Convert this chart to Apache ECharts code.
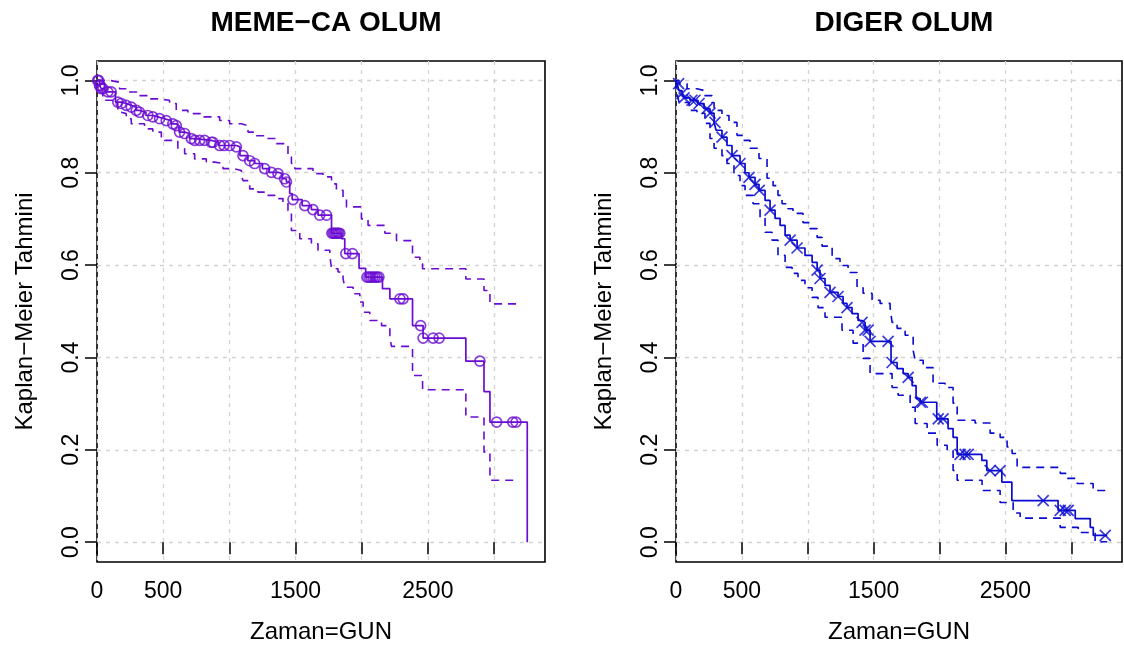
<!DOCTYPE html>
<html>
<head>
<meta charset="utf-8">
<title>Kaplan-Meier</title>
<script src="https://cdn.jsdelivr.net/npm/echarts@6/dist/echarts.min.js"></script>
<style>
html, body { margin: 0; padding: 0; background: #fff; }
#km { width: 1124px; height: 651px; }
</style>
</head>
<body>
<div id="km"></div>
<script>
// eksen degerleri
const xTicks = [0, 500, 1000, 1500, 2000, 2500, 3000];
const xLabels = [0, 500, 1500, 2500];
const yTicks = [0, 0.2, 0.4, 0.6, 0.8, 1.0];

// MEME-CA OLUM: [gun, S(t)]
const memeKM = [[0,1],[19,.989],[32,.982],[60,.975],[140,.953],[183,.950],[221,.946],[259,.942],[297,.935],[321,.931],[370,.924],[422,.921],[460,.917],[510,.913],[560,.906],[599,.902],[620,.888],[662,.885],[700,.874],[738,.870],[864,.866],[920,.859],[1053,.856],[1080,.837],[1140,.826],[1191,.820],[1250,.809],[1300,.801],[1368,.798],[1400,.787],[1431,.780],[1456,.755],[1475,.742],[1550,.729],[1620,.720],[1670,.708],[1772,.669],[1847,.657],[1872,.625],[1980,.593],[2030,.574],[2157,.549],[2213,.527],[2384,.469],[2464,.442],[2787,.392],[2924,.326],[2969,.260],[3251,0]];
const memeUpper = [[0,1],[95,.996],[170,.982],[233,.975],[309,.967],[384,.960],[460,.957],[548,.950],[599,.935],[687,.928],[788,.921],[927,.913],[1002,.906],[1091,.902],[1141,.888],[1191,.880],[1267,.874],[1356,.863],[1443,.834],[1469,.820],[1494,.809],[1632,.798],[1708,.791],[1772,.776],[1809,.762],[1859,.747],[1885,.726],[1998,.700],[2048,.686],[2175,.669],[2263,.653],[2384,.617],[2440,.603],[2460,.592],[2787,.570],[2924,.545],[2969,.516],[3171,.516]];
const memeLower = [[0,1],[20,.975],[44,.957],[157,.931],[183,.928],[221,.917],[259,.906],[359,.895],[422,.888],[486,.877],[511,.870],[611,.852],[662,.841],[738,.830],[826,.823],[888,.820],[952,.809],[1027,.805],[1091,.794],[1103,.783],[1154,.765],[1216,.758],[1280,.751],[1343,.744],[1405,.736],[1443,.718],[1469,.675],[1532,.657],[1620,.646],[1670,.632],[1759,.621],[1772,.592],[1821,.585],[1859,.571],[1872,.552],[1935,.538],[1986,.520],[2011,.498],[2061,.480],[2150,.469],[2213,.444],[2225,.424],[2384,.361],[2460,.330],[2787,.271],[2924,.195],[2969,.134],[3171,.134]];
const memeCensor = [5,12,19,25,32,45,82,107,157,183,221,259,297,321,384,422,473,523,573,599,624,662,713,738,776,813,864,876,927,960,1002,1053,1103,1154,1191,1267,1318,1368,1418,1431,1481,1570,1632,1683,1734,1775,1785,1795,1805,1815,1825,1834,1880,1930,2040,2055,2070,2085,2100,2115,2130,2289,2313,2445,2464,2540,2585,2893,3020,3141,3166];

// DIGER OLUM
const digerKM = [[0,1],[8,.993],[23,.978],[46,.972],[61,.962],[106,.957],[167,.950],[213,.939],[258,.929],[289,.909],[304,.892],[349,.877],[387,.859],[425,.837],[486,.820],[524,.800],[554,.790],[600,.775],[630,.762],[676,.740],[714,.719],[752,.701],[790,.686],[828,.665],[866,.654],[919,.637],[979,.621],[1033,.606],[1071,.589],[1093,.571],[1131,.556],[1169,.541],[1230,.532],[1268,.517],[1298,.508],[1336,.495],[1382,.480],[1412,.476],[1435,.459],[1473,.435],[1632,.389],[1678,.376],[1724,.365],[1762,.357],[1792,.339],[1822,.311],[1853,.303],[1979,.267],[2065,.246],[2103,.227],[2134,.190],[2321,.177],[2359,.155],[2473,.130],[2549,.090],[2900,.069],[3030,.051],[3144,.032],[3167,.0145],[3273,.0145]];
const digerUpper = [[0,1],[23,.993],[84,.982],[159,.978],[213,.967],[273,.952],[289,.935],[349,.924],[402,.909],[463,.881],[501,.870],[562,.853],[630,.831],[691,.788],[737,.772],[774,.751],[805,.733],[850,.722],[888,.712],[964,.692],[1017,.679],[1071,.660],[1109,.641],[1185,.614],[1245,.599],[1306,.584],[1374,.551],[1420,.539],[1488,.524],[1549,.517],[1625,.508],[1640,.476],[1678,.463],[1739,.448],[1800,.415],[1815,.394],[1876,.378],[1951,.344],[2042,.335],[2103,.301],[2134,.264],[2270,.258],[2384,.236],[2460,.227],[2513,.206],[2551,.192],[2589,.162],[2916,.149],[2969,.138],[3045,.127],[3166,.112],[3258,.108]];
const digerLower = [[0,1],[10,.970],[23,.952],[99,.935],[159,.929],[220,.907],[258,.874],[289,.853],[349,.837],[387,.820],[440,.794],[486,.772],[524,.751],[585,.733],[638,.703],[676,.671],[729,.654],[774,.621],[828,.595],[881,.582],[926,.567],[979,.551],[1033,.530],[1078,.508],[1131,.487],[1260,.459],[1344,.431],[1420,.398],[1473,.365],[1640,.335],[1686,.318],[1777,.292],[1815,.257],[1906,.236],[1982,.210],[2058,.199],[2103,.155],[2134,.134],[2323,.112],[2460,.086],[2559,.063],[2612,.052],[2916,.032],[3053,.021],[3121,.019],[3181,.001],[3273,.001]];
const digerCensor = [20,46,61,121,144,175,235,258,296,349,425,486,554,600,632,714,866,919,1071,1093,1169,1230,1298,1412,1435,1458,1473,1610,1640,1762,1855,1870,1990,2027,2156,2194,2217,2384,2460,2787,2916,2954,2977,3258];

const FONT = '"Liberation Sans", Arial, Helvetica, sans-serif';
const PURPLE = '#6a0cd2';
const BLUE = '#0a0ad0';

// sansur isaretleri egri uzerinde
function survAt(curve, t) {
  let s = curve[0][1];
  for (const p of curve) {
    if (p[0] <= t) s = p[1];
    else break;
  }
  return s;
}

function xAxisFor(gridIndex) {
  return {
    type: 'value',
    gridIndex: gridIndex,
    min: 0,
    max: 3385,
    axisLine: { show: false },
    axisTick: { show: true, inside: false, length: 12, customValues: xTicks, lineStyle: { color: '#000', width: 1.5 } },
    axisLabel: { customValues: xLabels, color: '#000', fontSize: 23, fontFamily: FONT, margin: 18, formatter: v => String(v) },
    splitLine: { show: true, lineStyle: { color: '#d3d3d3', type: [4, 5], width: 1.3 } },
    name: 'Zaman=GUN',
    nameLocation: 'middle',
    nameGap: 58,
    nameTextStyle: { color: '#000', fontSize: 24, fontFamily: FONT }
  };
}

function yAxisFor(gridIndex) {
  return {
    type: 'value',
    gridIndex: gridIndex,
    min: -0.043,
    max: 1.042,
    axisLine: { show: false },
    axisTick: { show: true, inside: false, length: 12, customValues: yTicks, lineStyle: { color: '#000', width: 1.5 } },
    axisLabel: {
      customValues: yTicks, rotate: 90, color: '#000', fontSize: 23, fontFamily: FONT, margin: 14,
      formatter: v => v.toFixed(1)
    },
    splitLine: { show: true, lineStyle: { color: '#d3d3d3', type: [4, 5], width: 1.3 } },
    name: 'Kaplan\u2212Meier Tahmini',
    nameLocation: 'middle',
    nameRotate: 90,
    nameGap: 60,
    nameTextStyle: { color: '#000', fontSize: 24, fontFamily: FONT }
  };
}

function panelSeries(idx, km, upper, lower, censor, color, symbol, size) {
  const dash = { color: color, width: 1.6, type: [8, 6] };
  return [
    { type: 'line', xAxisIndex: idx, yAxisIndex: idx, step: 'end', data: upper, symbol: 'none', lineStyle: dash },
    { type: 'line', xAxisIndex: idx, yAxisIndex: idx, step: 'end', data: lower, symbol: 'none', lineStyle: dash },
    { type: 'line', xAxisIndex: idx, yAxisIndex: idx, step: 'end', data: km, symbol: 'none', lineStyle: { color: color, width: 1.7 } },
    {
      type: 'scatter', xAxisIndex: idx, yAxisIndex: idx,
      data: censor.map(t => [t, survAt(km, t)]),
      symbol: symbol, symbolSize: size,
      itemStyle: { color: 'rgba(0,0,0,0)', borderColor: color, borderWidth: 1.7 }
    }
  ];
}

const chart = echarts.init(document.getElementById('km'));

const option = {
  animation: false,
  backgroundColor: '#fff',
  title: [
    { text: 'MEME\u2212CA OLUM', left: 321, top: 4, textAlign: 'center',
      textStyle: { fontSize: 28, fontWeight: 'bold', color: '#000', fontFamily: FONT } },
    { text: 'DIGER OLUM', left: 899, top: 4, textAlign: 'center',
      textStyle: { fontSize: 28, fontWeight: 'bold', color: '#000', fontFamily: FONT } }
  ],
  grid: [
    { left: 97, top: 61, width: 448, height: 501, show: true, borderColor: '#000', borderWidth: 1.6, outerBoundsMode: 'none' },
    { left: 676, top: 61, width: 446, height: 501, show: true, borderColor: '#000', borderWidth: 1.6, outerBoundsMode: 'none' }
  ],
  xAxis: [xAxisFor(0), xAxisFor(1)],
  yAxis: [yAxisFor(0), yAxisFor(1)],
  series: [].concat(
    panelSeries(0, memeKM, memeUpper, memeLower, memeCensor, PURPLE, 'circle', 10),
    panelSeries(1, digerKM, digerUpper, digerLower, digerCensor, BLUE, 'path://M0,0L10,10M10,0L0,10', 11)
  )
};

chart.setOption(option);
</script>
</body>
</html>
